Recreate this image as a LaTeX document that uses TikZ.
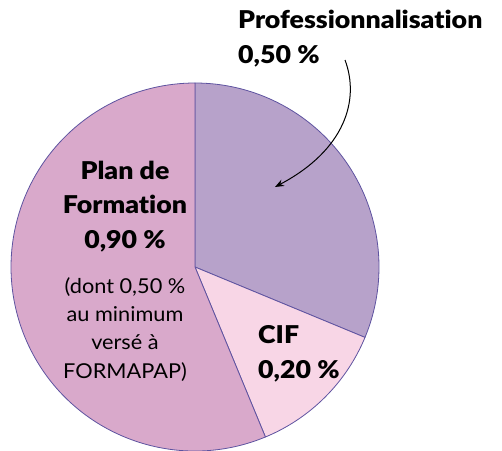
\documentclass[tikz,border=0pt]{standalone}
\usepackage{fontspec}
\setmainfont{Lato}
\newfontfamily\bigfont{Lato Black}[FakeStretch=1.09,Ligatures={NoCommon,NoRare}]
\newfontfamily\smallfont{Lato}[FakeStretch=1.06,Ligatures={NoCommon,NoRare}]
\usetikzlibrary{arrows.meta}
\definecolor{profc}{HTML}{B7A2CA}
\definecolor{cifc}{HTML}{F8D6E6}
\definecolor{planc}{HTML}{D9A9CB}
\definecolor{edgec}{HTML}{5E53A0}
\tikzset{
  slice/.style={draw=edgec,line width=0.8pt,line join=round},
  bigtxt/.style={font=\bigfont\fontsize{24.5}{34.5}\selectfont,inner sep=0pt,text=black},
  smalltxt/.style={font=\smallfont\fontsize{20.5}{28.3}\selectfont,inner sep=0pt,text=black},
  callout/.style={-{Stealth[length=9pt,width=7pt]},line width=1pt,black}
}
\begin{document}
\begin{tikzpicture}[x=1pt,y=-1pt]
\useasboundingbox (0,0) rectangle (502,450);
\coordinate (c) at (195,267);
\fill[profc,slice] (c) -- ++(-90:184) arc[start angle=-90,end angle=22.5,radius=184] -- cycle;
\fill[cifc,slice] (c) -- ++(22.5:184) arc[start angle=22.5,end angle=67.5,radius=184] -- cycle;
\fill[planc,slice] (c) -- ++(67.5:184) arc[start angle=67.5,end angle=270,radius=184] -- cycle;
\node[bigtxt,align=left,anchor=base west] (prof) at (238,63) {Professionnalisation\\0,50 \%};
\node[bigtxt,align=center,anchor=base] (plan) at (125,248) {Plan de\\Formation\\0,90 \%};
\node[smalltxt,align=center,anchor=base] (dont) at (125,378) {(dont 0,50 \%\\au minimum\\versé à\\FORMAPAP)};
\node[bigtxt,align=left,anchor=base west] (cif) at (258,378) {CIF\\0,20 \%};
\coordinate (ps) at (345,60);
\coordinate (pt) at (275,187);
\draw[callout] (ps) .. controls (360,100) and (345,150) .. (pt);
\end{tikzpicture}
\end{document}
